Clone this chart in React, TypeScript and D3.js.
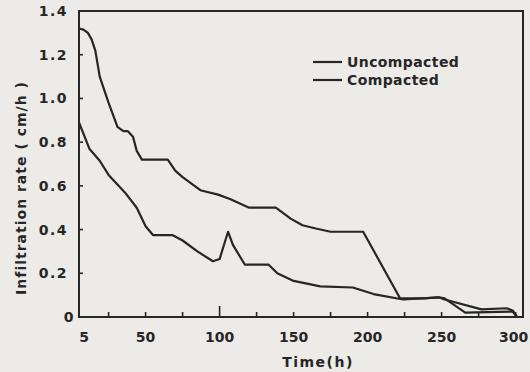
import React from "react";
import * as d3 from "d3";

const uncompactedT = [5, 8, 11, 13.5, 16, 19, 25, 31, 35, 38, 41.5, 44, 47.5, 65, 70, 75, 81, 87, 99, 107, 120, 138, 148, 156, 165, 175, 197, 222, 238, 248, 252, 266, 298, 301];
const uncompactedV = [1.32, 1.315, 1.3, 1.27, 1.22, 1.1, 0.98, 0.87, 0.85, 0.85, 0.825, 0.76, 0.72, 0.72, 0.67, 0.64, 0.61, 0.58, 0.56, 0.54, 0.5, 0.5, 0.45, 0.42, 0.405, 0.39, 0.39, 0.085, 0.085, 0.09, 0.085, 0.02, 0.025, 0.0];

const compactedT = [5, 12, 19, 25, 36, 44, 50, 55, 68, 75, 85, 95.5, 100, 105.7, 109, 117, 133, 139, 150, 168, 190, 204, 224, 248, 252, 277, 294, 298, 301];
const compactedV = [0.89, 0.77, 0.715, 0.65, 0.57, 0.5, 0.415, 0.375, 0.375, 0.35, 0.3, 0.255, 0.265, 0.39, 0.33, 0.24, 0.24, 0.2, 0.165, 0.14, 0.135, 0.105, 0.08, 0.09, 0.08, 0.035, 0.04, 0.03, 0.0];

const xTicks = [25, 50, 75, 100, 125, 150, 175, 200, 225, 250, 275, 300];
const xLabels = [5, 50, 100, 150, 200, 250, 300];
const yTicks = [0, 0.2, 0.4, 0.6, 0.8, 1.0, 1.2, 1.4];
const yLabels = ["0", "0.2", "0.4", "0.6", "0.8", "1.0", "1.2", "1.4"];
const seriesNames = ["Uncompacted", "Compacted"];

export default function App() {
  const W = 530, H = 372;
  const x = d3.scaleLinear().domain([5, 305]).range([79, 523]);
  const y = d3.scaleLinear().domain([0, 1.4]).range([317, 11]);
  const line = d3.line<[number, number]>().x(d => x(d[0])).y(d => y(d[1])).curve(d3.curveLinear);
  const up = uncompactedT.map((t, i) => [t, uncompactedV[i]] as [number, number]);
  const cp = compactedT.map((t, i) => [t, compactedV[i]] as [number, number]);
  const ink = "#262626";
  const font = "'DejaVu Sans', Verdana, sans-serif";
  return (
    <div style={{ position: "fixed", left: 0, top: 0 }}>
      <svg width={W} height={H} style={{ display: "block" }}>
        <rect x={0} y={0} width={W} height={H} fill="#ecebe8" />
        <rect x={x(5)} y={y(1.4)} width={x(305) - x(5)} height={y(0) - y(1.4)} fill="none" stroke={ink} strokeWidth={2} />
        {xTicks.map(t => (
          <line key={t} x1={x(t)} x2={x(t)} y1={y(0)} y2={y(0) - (t === 100 ? 11 : 5)} stroke={ink} strokeWidth={1.6} />
        ))}
        {yTicks.map(v => (
          <line key={v} x1={x(5)} x2={x(5) + 4} y1={y(v)} y2={y(v)} stroke={ink} strokeWidth={1.6} />
        ))}
        {xLabels.map(t => (
          <text key={t} x={x(t) + (t === 5 ? 5 : t === 300 ? -2 : 0)} y={342} textAnchor="middle" fontFamily={font} fontWeight="bold" fontSize={14} fill={ink}>{t}</text>
        ))}
        {yTicks.map((v, i) => (
          <text key={v} x={i === 0 ? 75 : 68} y={y(v) + 5} textAnchor="end" fontFamily={font} fontWeight="bold" fontSize={14} letterSpacing={1.5} fill={ink}>{yLabels[i]}</text>
        ))}
        <text x={318} y={367} textAnchor="middle" fontFamily={font} fontWeight="bold" fontSize={14} letterSpacing={1.5} fill={ink}>Time(h)</text>
        <text transform={`translate(26,188) rotate(-90)`} textAnchor="middle" fontFamily={font} fontWeight="bold" fontSize={14} letterSpacing={1} fill={ink}>Infiltration rate ( cm/h )</text>
        <path d={line(up) || ""} fill="none" stroke={ink} strokeWidth={2.2} strokeLinejoin="round" />
        <path d={line(cp) || ""} fill="none" stroke={ink} strokeWidth={2.2} strokeLinejoin="round" />
        {seriesNames.map((n, i) => (
          <g key={n}>
            <line x1={313} x2={342} y1={62 + i * 18} y2={62 + i * 18} stroke={ink} strokeWidth={2.2} />
            <text x={347} y={67 + i * 18} fontFamily={font} fontWeight="bold" fontSize={14} letterSpacing={0.4} fill={ink}>{n}</text>
          </g>
        ))}
      </svg>
    </div>
  );
}
